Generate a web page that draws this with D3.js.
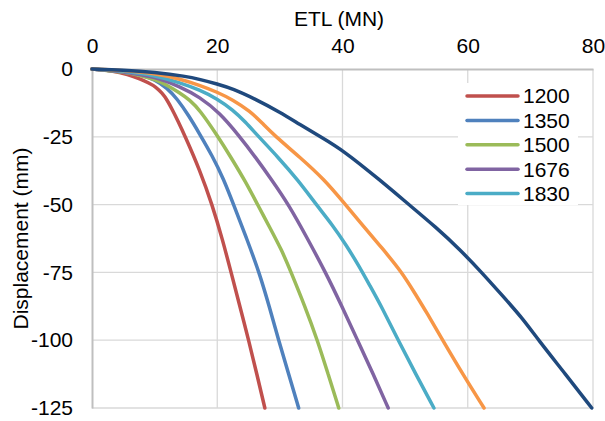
<!DOCTYPE html>
<html>
<head>
<meta charset="utf-8">
<script src="https://cdn.jsdelivr.net/npm/d3@7"></script>
<style>
    body { margin: 0; background: #ffffff; }
    text { font-family: "Liberation Sans", Arial, sans-serif; fill: #000000; }
</style>
</head>
<body>
<svg id="chart" width="605" height="421"></svg>
<script>
// data: [ETL (MN), displacement (mm)]
const xTicks = [0, 20, 40, 60, 80];
const yTicks = [0, -25, -50, -75, -100, -125];

const seriesNames  = ['1200', '1350', '1500', '1676', '1830', null, null];
const seriesColors = ['#C0504D', '#4F81BD', '#9BBB59', '#8064A2', '#4BACC6', '#F79646', '#1F497D'];

const s1200 = [[0,0],[3.2,-0.6],[5.75,-2],[7.7,-3.7],[9.1,-5.2],[10.2,-6.6],[11.2,-8.9],[12,-11.4],[12.85,-15.1],
               [13.65,-18.8],[14.85,-24.7],[17.2,-37.2],[19.2,-50.1],[20.85,-63],[22.2,-74.9],[23.6,-87.4],
               [25.05,-100.3],[26.35,-112.8],[27.6,-125]];
const s1350 = [[0,0],[5,-0.9],[8,-2.3],[10,-3.8],[12,-7],[13.6,-11],[15.4,-17],[17.2,-24],[19.2,-32],
               [21,-40.5],[22.6,-50],[24.7,-62.5],[26.7,-75],[28.3,-87.5],[29.8,-100],[31.4,-112.5],[33,-125]];
const s1500 = [[0,0],[5,-1.1],[8,-2.5],[10,-3.8],[12,-6],[14,-8.8],[15.6,-11.4],[17.2,-15.1],[20,-24.5],
               [22.3,-33],[24.5,-41.5],[26.4,-49.8],[28.4,-58.5],[30.3,-66.8],[31.8,-75],[34,-87.5],[36,-100],
               [37.7,-112.5],[39.4,-125]];
const s1676 = [[0,0],[5,-0.9],[10,-2.8],[14,-6.5],[17.2,-10.3],[20.4,-16.2],[23.5,-24.7],[26.1,-32.5],
               [28.7,-40.9],[31.4,-50],[34.4,-62.5],[37.3,-75],[39.9,-87.5],[42.4,-100],[44.9,-112.5],[47.3,-125]];
const s1830 = [[0,0],[5,-0.7],[10,-2.3],[14,-5],[17.2,-7.7],[20,-11],[22.5,-15.1],[24.5,-19.5],[26.5,-24.7],
               [29.7,-32.5],[32.9,-41],[35.8,-50],[38.4,-57.5],[40.6,-65],[42.6,-72.5],[44.4,-80],[46.2,-87.5],
               [48.9,-100],[51.7,-112.5],[54.6,-125]];
const sOrange = [[0,0],[5,-0.5],[10,-1.6],[14,-3.6],[17.2,-6],[20,-8.5],[22.5,-11.4],[25.2,-15.5],[27.2,-20],
               [29.2,-24.7],[33.2,-32.5],[37.2,-41],[40.1,-49],[43,-57],[46.3,-66],[49.5,-75],[51.5,-82.5],
               [53.5,-90],[56,-100],[59.2,-112.5],[62.6,-125]];
const sNavy = [[0,0],[5,-0.35],[10,-1.2],[15,-2.7],[17.2,-3.8],[20,-5.5],[22.5,-7.3],[26,-11],[30,-15.9],
               [33.2,-20.5],[36.5,-25],[40.1,-30],[46,-41],[50.5,-49.8],[55,-58.5],[58.8,-66.7],[62.3,-75.2],
               [65.5,-83.5],[68.7,-91.8],[71.3,-100],[75.6,-112.5],[79.8,-125]];

const seriesValues = [s1200, s1350, s1500, s1676, s1830, sOrange, sNavy];

class DisplacementChart {
    constructor (selector) {
        this.svg = d3.select(selector);
        this.x = d3.scaleLinear().domain([0, 80]).range([92, 593]);
        this.y = d3.scaleLinear().domain([0, -125]).range([69, 408]);
    }
    drawGrid () {
        let g = this.svg.append('g').attr('class', 'grid');

        g.selectAll('line.vgrid')
            .data(xTicks.slice(1))
            .enter()
            .append('line')
            .attr('x1', (d) => this.x(d))
            .attr('x2', (d) => this.x(d))
            .attr('y1', this.y(0))
            .attr('y2', this.y(-125))
            .attr('stroke', '#d9d9d9')
            .attr('stroke-width', 1.3);

        g.selectAll('line.hgrid')
            .data(yTicks.slice(1))
            .enter()
            .append('line')
            .attr('x1', this.x(0))
            .attr('x2', this.x(80))
            .attr('y1', (d) => this.y(d))
            .attr('y2', (d) => this.y(d))
            .attr('stroke', '#d9d9d9')
            .attr('stroke-width', 1.3);
    }
    drawAxes () {
        // plain hyphen for negatives, like the original
        let fmt = (d) => String(d);
        let xAxis = d3.axisTop(this.x).tickValues(xTicks).tickFormat(fmt).tickSize(0).tickPadding(16);
        let yAxis = d3.axisLeft(this.y).tickValues(yTicks).tickFormat(fmt).tickSize(0).tickPadding(19);

        let gx = this.svg.append('g')
            .attr('transform', `translate(0,${this.y(0)})`)
            .call(xAxis);
        let gy = this.svg.append('g')
            .attr('transform', `translate(${this.x(0)},0)`)
            .call(yAxis);

        for (let g of [gx, gy]) {
            g.select('.domain').attr('stroke', '#bfbfbf').attr('stroke-width', 2);
            g.selectAll('text')
                .attr('font-size', 21)
                .attr('font-family', '"Liberation Sans", Arial, sans-serif')
                .attr('fill', '#000');
        }

        this.svg.append('text')
            .attr('x', 339)
            .attr('y', 26)
            .attr('text-anchor', 'middle')
            .attr('font-size', 21)
            .text('ETL (MN)');

        this.svg.append('text')
            .attr('transform', `translate(28,${(this.y(0) + this.y(-125)) / 2}) rotate(-90)`)
            .attr('text-anchor', 'middle')
            .attr('font-size', 21)
            .text('Displacement (mm)');
    }
    drawLines () {
        // basis spline rounds off the small kinks left by reading values by eye
        let line = d3.line()
            .x((d) => this.x(d[0]))
            .y((d) => this.y(d[1]))
            .curve(d3.curveBasis);

        this.svg.append('g')
            .selectAll('path')
            .data(seriesValues)
            .enter()
            .append('path')
            .attr('d', line)
            .attr('fill', 'none')
            .attr('stroke', (d, i) => seriesColors[i])
            .attr('stroke-width', 3.5)
            .attr('stroke-linejoin', 'round')
            .attr('stroke-linecap', 'round');
    }
    drawLegend () {
        let names = seriesNames.filter((n) => n !== null);

        let legend = this.svg.append('g').attr('class', 'legend');
        legend.append('rect')
            .attr('x', 458).attr('y', 83)
            .attr('width', 120).attr('height', 122)
            .attr('fill', '#ffffff');

        let rows = legend.selectAll('g.row')
            .data(names)
            .enter()
            .append('g')
            .attr('class', 'row')
            .attr('transform', (d, i) => `translate(0,${96 + i * 24.4})`);

        rows.append('line')
            .attr('x1', 467).attr('x2', 518)
            .attr('y1', 0).attr('y2', 0)
            .attr('stroke', (d, i) => seriesColors[i])
            .attr('stroke-width', 3.5)
            .attr('stroke-linecap', 'round');

        rows.append('text')
            .attr('x', 523)
            .attr('dy', '0.35em')
            .attr('font-size', 21)
            .text((d) => d);
    }
    render () {
        this.drawGrid();
        this.drawAxes();
        this.drawLines();
        this.drawLegend();
        return this;
    }
}

new DisplacementChart('#chart').render();
</script>
</body>
</html>
